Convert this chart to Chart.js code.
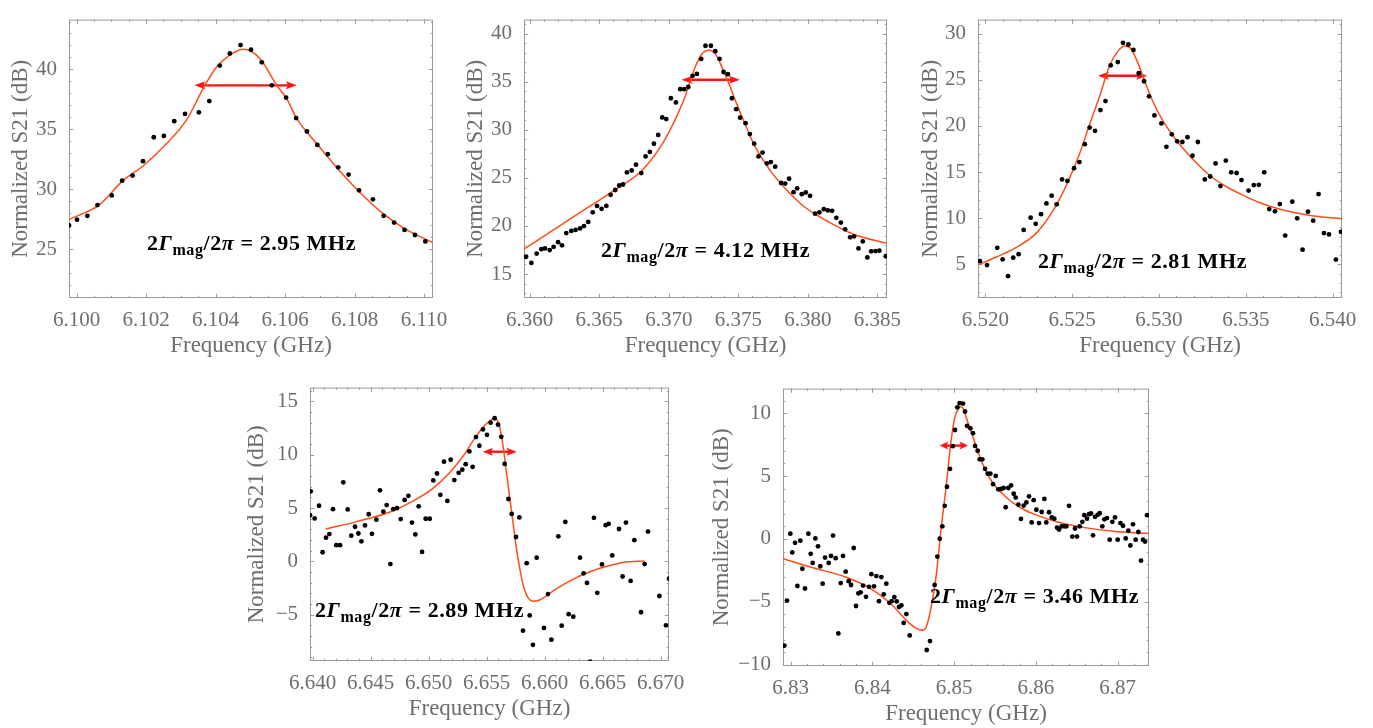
<!DOCTYPE html>
<html>
<head>
<meta charset="utf-8">
<title>Normalized S21 resonances</title>
<script src="https://cdn.jsdelivr.net/npm/chart.js"></script>
<style>
  body { margin: 0; background: #fff; width: 1373px; height: 728px; overflow: hidden; position: relative; }
  canvas { position: absolute; }
</style>
</head>
<body>
<script>
let p1Freq = [6.09978, 6.10001, 6.10031, 6.10060, 6.10101, 6.10131, 6.10161, 6.10191, 6.10222, 6.10251,
  6.10281, 6.10312, 6.10352, 6.10382, 6.10412, 6.10441, 6.10472, 6.10502, 6.10533, 6.10562,
  6.10603, 6.10632, 6.10663, 6.10693, 6.10723, 6.10753, 6.10783, 6.10813, 6.10853, 6.10884,
  6.10914, 6.10944, 6.10974, 6.11004];
let p1S21 = [26.98, 27.46, 27.78, 28.68, 29.48, 30.71, 31.14, 32.34, 34.34, 34.45,
  35.68, 36.29, 36.42, 37.36, 40.32, 41.33, 42.03, 41.65, 40.59, 38.67,
  37.65, 35.94, 34.82, 33.70, 32.93, 31.83, 31.22, 29.91, 29.16, 27.78,
  27.22, 26.60, 26.18, 25.64];
let p1FitFreq = [6.09978, 6.10067, 6.10131, 6.10191, 6.10259, 6.10317, 6.10369, 6.10403, 6.10441, 6.10480,
  6.10528, 6.10576, 6.10605, 6.10633, 6.10691, 6.10753, 6.10813, 6.10883, 6.10943, 6.11026];
let p1FitS21 = [27.46, 28.74, 30.66, 31.94, 33.81, 35.81, 38.67, 40.21, 41.20, 41.68,
  40.90, 38.67, 37.54, 35.94, 33.81, 31.67, 29.81, 27.94, 26.74, 25.53];
let p1XTicks = [6.100, 6.102, 6.104, 6.106, 6.108, 6.110];
let p1YTicks = [25, 30, 35, 40];

let p2Freq = [6.35974, 6.36012, 6.36050, 6.36084, 6.36110, 6.36144, 6.36172, 6.36204, 6.36232, 6.36263,
  6.36299, 6.36330, 6.36362, 6.36390, 6.36421, 6.36453, 6.36484, 6.36517, 6.36551, 6.36582,
  6.36615, 6.36644, 6.36671, 6.36699, 6.36733, 6.36764, 6.36802, 6.36833, 6.36864, 6.36893,
  6.36924, 6.36953, 6.36982, 6.37015, 6.37051, 6.37082, 6.37111, 6.37140, 6.37171, 6.37202,
  6.37233, 6.37264, 6.37303, 6.37334, 6.37365, 6.37394, 6.37425, 6.37454, 6.37485, 6.37513,
  6.37552, 6.37583, 6.37614, 6.37645, 6.37674, 6.37705, 6.37734, 6.37765, 6.37808, 6.37837,
  6.37865, 6.37897, 6.37923, 6.37956, 6.37985, 6.38016, 6.38052, 6.38083, 6.38115, 6.38143,
  6.38174, 6.38205, 6.38237, 6.38268, 6.38304, 6.38332, 6.38364, 6.38395, 6.38428, 6.38455,
  6.38486, 6.38514, 6.38560];
let p2S21 = [16.80, 16.16, 17.13, 17.59, 17.66, 17.49, 17.83, 18.32, 17.99, 19.26,
  19.49, 19.59, 19.75, 19.99, 20.42, 21.42, 22.08, 21.78, 22.08, 23.24,
  23.74, 24.21, 24.31, 25.57, 25.77, 26.37, 25.50, 27.23, 27.70, 28.56,
  29.46, 31.29, 31.12, 33.28, 32.85, 34.22, 34.22, 34.45, 35.61, 35.81,
  37.37, 38.74, 38.74, 38.17, 37.37, 36.01, 35.78, 33.28, 32.15, 31.26,
  30.69, 29.56, 28.56, 27.23, 27.63, 26.50, 26.64, 26.17, 24.47, 24.41,
  24.91, 23.51, 23.91, 23.31, 23.48, 23.14, 21.28, 21.42, 21.75, 21.62,
  21.58, 20.85, 20.35, 19.65, 18.82, 18.92, 17.66, 18.39, 16.73, 17.36,
  17.39, 17.43, 16.86];
let p2FitFreq = [6.35959, 6.36182, 6.36421, 6.36613, 6.36805, 6.36948, 6.37044, 6.37116, 6.37152, 6.37188,
  6.37236, 6.37291, 6.37343, 6.37391, 6.37439, 6.37487, 6.37547, 6.37619, 6.37739, 6.37858,
  6.37978, 6.38098, 6.38217, 6.38337, 6.38569];
let p2FitS21 = [17.59, 19.70, 21.95, 23.75, 25.75, 28.40, 31.00, 33.40, 35.00, 36.45,
  37.85, 38.27, 37.71, 36.21, 34.55, 32.75, 30.65, 28.30, 25.57, 23.58,
  21.95, 20.85, 19.90, 19.09, 18.19];
let p2XTicks = [6.360, 6.365, 6.370, 6.375, 6.380, 6.385];
let p2YTicks = [15, 20, 25, 30, 35, 40];

let p3Freq = [6.51969, 6.52010, 6.52069, 6.52100, 6.52131, 6.52161, 6.52192, 6.52221, 6.52261, 6.52290,
  6.52321, 6.52352, 6.52382, 6.52411, 6.52442, 6.52473, 6.52511, 6.52542, 6.52573, 6.52601,
  6.52632, 6.52663, 6.52692, 6.52722, 6.52763, 6.52793, 6.52824, 6.52853, 6.52884, 6.52914,
  6.52943, 6.52974, 6.53014, 6.53043, 6.53074, 6.53105, 6.53135, 6.53164, 6.53193, 6.53224,
  6.53264, 6.53295, 6.53326, 6.53354, 6.53385, 6.53416, 6.53447, 6.53475, 6.53516, 6.53546,
  6.53575, 6.53606, 6.53635, 6.53668, 6.53696, 6.53727, 6.53768, 6.53796, 6.53827, 6.53858,
  6.53888, 6.53919, 6.53950, 6.53979, 6.54019, 6.54048];
let p3S21 = [5.35, 4.93, 6.80, 5.55, 3.72, 5.73, 6.11, 8.74, 10.06, 9.40,
  10.44, 11.61, 12.44, 11.51, 14.21, 14.04, 15.42, 16.08, 18.02, 19.82,
  19.47, 21.72, 22.69, 26.57, 26.92, 29.00, 28.82, 28.23, 25.71, 24.84,
  23.21, 21.14, 20.27, 17.74, 19.09, 18.33, 18.26, 18.78, 16.77, 18.26,
  14.21, 14.52, 15.94, 13.48, 16.25, 14.97, 14.90, 14.14, 13.00, 13.59,
  13.62, 14.97, 10.99, 10.75, 11.54, 8.12, 11.79, 9.99, 6.59, 10.71,
  9.74, 12.62, 8.39, 8.25, 5.52, 8.53];
let p3FitFreq = [6.51958, 6.52063, 6.52179, 6.52294, 6.52390, 6.52467, 6.52544, 6.52601, 6.52659, 6.52717,
  6.52765, 6.52805, 6.52841, 6.52880, 6.52918, 6.52966, 6.53024, 6.53101, 6.53197, 6.53293,
  6.53389, 6.53485, 6.53581, 6.53677, 6.53773, 6.53869, 6.54054];
let p3FitS21 = [4.93, 5.80, 6.84, 8.39, 10.82, 13.59, 17.05, 20.17, 23.28, 26.57,
  28.13, 28.65, 28.30, 26.75, 24.84, 22.59, 20.51, 18.43, 16.36, 14.63,
  13.41, 12.48, 11.68, 11.09, 10.64, 10.30, 9.95];
let p3XTicks = [6.520, 6.525, 6.530, 6.535, 6.540];
let p3YTicks = [5, 10, 15, 20, 25, 30];

let p4Freq = [6.63977, 6.63983, 6.64017, 6.64055, 6.64086, 6.64115, 6.64144, 6.64175, 6.64204, 6.64236,
  6.64264, 6.64302, 6.64333, 6.64365, 6.64394, 6.64420, 6.64451, 6.64483, 6.64511, 6.64549,
  6.64580, 6.64609, 6.64638, 6.64670, 6.64695, 6.64727, 6.64759, 6.64793, 6.64825, 6.64856,
  6.64885, 6.64914, 6.64943, 6.64974, 6.65009, 6.65040, 6.65072, 6.65101, 6.65132, 6.65161,
  6.65190, 6.65221, 6.65259, 6.65290, 6.65319, 6.65351, 6.65379, 6.65408, 6.65437, 6.65468,
  6.65503, 6.65534, 6.65569, 6.65598, 6.65626, 6.65655, 6.65687, 6.65716, 6.65753, 6.65782,
  6.65813, 6.65845, 6.65871, 6.65899, 6.65931, 6.65994, 6.66029, 6.66058, 6.66118, 6.66147,
  6.66178, 6.66207, 6.66247, 6.66305, 6.66336, 6.66365, 6.66391, 6.66425, 6.66454, 6.66494,
  6.66526, 6.66552, 6.66583, 6.66641, 6.66672, 6.66701, 6.66741, 6.66773, 6.66831, 6.66862,
  6.66891, 6.66989, 6.67046, 6.67072];
let p4S21 = [4.33, 6.57, 4.03, 5.22, 0.86, 2.23, 2.56, 4.90, 1.52, 1.52,
  7.41, 4.87, 2.41, 3.25, 2.62, 1.88, 3.37, 4.42, 2.59, 3.91,
  6.66, 4.66, 5.28, -0.25, 4.90, 4.99, 3.97, 5.76, 6.15, 3.64,
  2.53, 5.16, 0.89, 4.00, 4.00, 7.59, 8.24, 6.24, 9.35, 5.67,
  9.53, 7.62, 8.30, 8.60, 9.11, 10.31, 8.87, 11.65, 10.84, 12.37,
  11.86, 13.00, 13.42, 12.82, 11.68, 9.14, 5.85, 4.45, 2.29, 4.12,
  -6.49, -0.16, -5.06, -7.81, 0.35, -6.23, -3.06, -7.33, 2.35, -6.02,
  3.70, -4.94, -5.18, 0.35, -1.11, -2.01, -9.42, 4.09, -2.94, -0.28,
  3.40, 3.52, 0.56, 3.04, -1.41, 3.64, -1.83, 1.99, -4.76, -0.25,
  2.80, -3.24, -5.99, -1.62];
let p4FitFreq = [6.64112, 6.64379, 6.64667, 6.64868, 6.65040, 6.65184, 6.65299, 6.65385, 6.65471, 6.65543,
  6.65572, 6.65609, 6.65644, 6.65672, 6.65701, 6.65730, 6.65759, 6.65787, 6.65816, 6.65851,
  6.65902, 6.65960, 6.66103, 6.66247, 6.66391, 6.66535, 6.66678, 6.66862];
let p4FitS21 = [3.04, 3.73, 4.63, 5.67, 6.87, 8.36, 9.90, 11.35, 12.60, 13.28,
  13.36, 12.75, 10.61, 8.21, 5.82, 3.43, 1.04, -0.75, -2.25, -3.30,
  -3.74, -3.59, -2.55, -1.65, -0.96, -0.46, -0.10, 0.05];
let p4XTicks = [6.640, 6.645, 6.650, 6.655, 6.660, 6.665, 6.670];
let p4YTicks = [-5, 0, 5, 10, 15];

let p5Freq = [6.82923, 6.82955, 6.82996, 6.83020, 6.83053, 6.83082, 6.83118, 6.83143, 6.83175, 6.83216,
  6.83245, 6.83269, 6.83302, 6.83334, 6.83363, 6.83391, 6.83420, 6.83465, 6.83493, 6.83518,
  6.83550, 6.83583, 6.83612, 6.83640, 6.83673, 6.83709, 6.83738, 6.83771, 6.83799, 6.83828,
  6.83856, 6.83885, 6.83921, 6.83958, 6.83987, 6.84019, 6.84048, 6.84080, 6.84109, 6.84138,
  6.84170, 6.84207, 6.84235, 6.84268, 6.84297, 6.84325, 6.84354, 6.84382, 6.84415, 6.84456,
  6.84664, 6.84704, 6.84761, 6.84794, 6.84823, 6.84855, 6.84884, 6.84912, 6.84949, 6.84982,
  6.85010, 6.85039, 6.85067, 6.85108, 6.85132, 6.85157, 6.85198, 6.85230, 6.85255, 6.85287,
  6.85312, 6.85344, 6.85377, 6.85410, 6.85442, 6.85475, 6.85508, 6.85540, 6.85573, 6.85605,
  6.85630, 6.85662, 6.85695, 6.85728, 6.85752, 6.85785, 6.85817, 6.85850, 6.85883, 6.85915,
  6.85948, 6.85972, 6.86005, 6.86038, 6.86070, 6.86103, 6.86127, 6.86160, 6.86193, 6.86225,
  6.86258, 6.86282, 6.86315, 6.86347, 6.86372, 6.86405, 6.86445, 6.86478, 6.86502, 6.86535,
  6.86568, 6.86592, 6.86625, 6.86649, 6.86674, 6.86698, 6.86723, 6.86755, 6.86780, 6.86812,
  6.86837, 6.86869, 6.86902, 6.86935, 6.86967, 6.87000, 6.87033, 6.87065, 6.87098, 6.87130,
  6.87155, 6.87187, 6.87220, 6.87253, 6.87285, 6.87310, 6.87334, 6.87359];
let p5S21 = [-8.48, -4.90, 0.42, -1.07, -0.31, -3.74, -0.14, -2.37, -3.94, 0.42,
  -1.18, -1.91, 0.04, -0.59, -2.17, -3.56, -1.48, -1.91, -1.35, 0.27,
  -1.53, -7.51, -3.51, -1.35, -2.60, -3.36, -3.66, -0.72, -5.33, -4.32,
  -4.24, -3.71, -4.60, -3.81, -2.80, -3.77, -2.95, -4.95, -3.03, -4.40,
  -3.56, -5.08, -4.95, -4.62, -4.97, -5.41, -5.28, -6.68, -5.97, -7.67,
  -8.83, -8.12, -3.66, -1.40, 0.02, 1.00, 2.63, 4.15, 5.57, 7.37,
  8.66, 10.46, 10.79, 10.76, 10.13, 8.99, 8.79, 8.41, 7.39, 7.01,
  6.33, 6.33, 5.57, 5.19, 5.19, 4.35, 5.01, 3.94, 3.97, 4.05,
  2.52, 4.05, 4.25, 3.59, 3.29, 2.73, 1.59, 2.65, 2.90, 3.39,
  1.31, 3.08, 2.32, 1.26, 2.14, 3.18, 1.31, 2.12, 1.71, 1.61,
  0.90, 0.75, 1.00, 1.00, 1.00, 2.63, 0.19, 0.83, 0.19, 1.00,
  1.36, 1.89, 1.61, 1.97, 2.02, 0.29, 1.76, 1.92, 2.04, 1.00,
  1.56, 1.66, -0.06, 1.36, 1.71, -0.06, 1.26, 1.05, 0.04, 0.65,
  -0.52, 1.16, -0.06, 0.55, -1.73, -0.06, -0.21, 1.89];
let p5FitFreq = [6.82906, 6.83273, 6.83681, 6.84007, 6.84252, 6.84415, 6.84537, 6.84611, 6.84659, 6.84721,
  6.84782, 6.84843, 6.84904, 6.84953, 6.85006, 6.85059, 6.85083, 6.85108, 6.85149, 6.85230,
  6.85312, 6.85393, 6.85475, 6.85638, 6.85801, 6.86005, 6.86290, 6.86617, 6.86943, 6.87400];
let p5FitS21 = [-1.58, -2.29, -3.05, -4.07, -5.33, -6.47, -7.11, -7.26, -6.98, -5.33,
  -2.80, 1.00, 4.30, 7.34, 9.62, 10.43, 10.50, 10.38, 9.62, 8.10,
  6.58, 5.31, 4.43, 3.29, 2.52, 1.89, 1.31, 0.88, 0.62, 0.42];
let p5XTicks = [6.83, 6.84, 6.85, 6.86, 6.87];
let p5YTicks = [-10, -5, 0, 5, 10];

/* Linewidth 2Γ/2π of each mode (MHz) and the arrow that marks it. */
let widthMHz = ["2.95", "4.12", "2.81", "2.89", "3.46"];
let arrowFrom = [6.10339, 6.37092, 6.52649, 6.65466, 6.84823];
let arrowTo = [6.10634, 6.37511, 6.52932, 6.65759, 6.85169];
let arrowLevel = [38.67, 35.21, 25.43, 10.28, 7.42];

const SERIF = "'Liberation Serif', 'Times New Roman', serif";
const AXIS_GRAY = "#6e6e6e";
const FRAME_GRAY = "#9a9a9a";
const FIT_COLOR = "#ff4d1a";
const ARROW_RED = "#ff1414";

/* Page layout: plot frame [left, top, right, bottom], y-title centre, label anchor. */
let panels = [
  { freq: p1Freq, s21: p1S21, fitFreq: p1FitFreq, fitS21: p1FitS21, xTicks: p1XTicks, yTicks: p1YTicks,
    box: [69, 7, 433, 298], titleX: 21, xRange: [6.09978, 6.11026], yRange: [20.92, 44.16],
    xMinor: 0.0005, yMinor: 1, digits: 3, label: [147, 250] },
  { freq: p2Freq, s21: p2S21, fitFreq: p2FitFreq, fitS21: p2FitS21, xTicks: p2XTicks, yTicks: p2YTicks,
    box: [524, 7, 887, 298], titleX: 476, xRange: [6.35959, 6.38569], yRange: [12.51, 41.46],
    xMinor: 0.001, yMinor: 1, digits: 3, label: [601, 257] },
  { freq: p3Freq, s21: p3S21, fitFreq: p3FitFreq, fitS21: p3FitS21, xTicks: p3XTicks, yTicks: p3YTicks,
    box: [978, 7, 1342, 298], titleX: 931, xRange: [6.51958, 6.54054], yRange: [1.36, 31.52],
    xMinor: 0.001, yMinor: 1, digits: 3, label: [1038, 268] },
  { freq: p4Freq, s21: p4S21, fitFreq: p4FitFreq, fitS21: p4FitS21, xTicks: p4XTicks, yTicks: p4YTicks,
    box: [310, 375, 669, 661], titleX: 257, xRange: [6.63977, 6.67072], yRange: [-9.33, 16.29],
    xMinor: 0.001, yMinor: 1, digits: 3, label: [315, 617] },
  { freq: p5Freq, s21: p5S21, fitFreq: p5FitFreq, fitS21: p5FitS21, xTicks: p5XTicks, yTicks: p5YTicks,
    box: [783, 376, 1149, 666], titleX: 722, xRange: [6.82906, 6.87383], yRange: [-10.1, 11.95],
    xMinor: 0.002, yMinor: 1, digits: 2, label: [930, 603] }
];

function signed(v) {
  /* Mathematica style minus sign on negative tick labels. */
  return v < 0 ? "\u2212" + Math.abs(v) : String(v);
}

function drawWidthLabel(ctx, left, base, mhz) {
  /* 2Γ_mag/2π = … MHz, bold, Γ and π in italics, "mag" as a subscript. */
  let size = 22;
  let bold = "bold " + size + "px " + SERIF;
  let italic = "italic bold " + size + "px " + SERIF;
  let small = "bold " + Math.round(size * 0.72) + "px " + SERIF;
  let pieces = [
    ["2", bold, 0], ["\u0393", italic, 0], ["mag", small, 5],
    ["/2", bold, 0], ["\u03c0", italic, 0], [" = " + mhz + " MHz", bold, 0]
  ];
  ctx.save();
  let natural = 0;
  let count = 0;
  pieces.forEach(([t, f]) => {
    ctx.font = f;
    natural += ctx.measureText(t).width;
    count += t.length;
  });
  let spacing = Math.max(0, Math.min(0.8, (209 - natural) / count));
  ctx.fillStyle = "#000";
  ctx.textBaseline = "alphabetic";
  let xp = left;
  pieces.forEach(([t, f, dy]) => {
    ctx.font = f;
    let w = ctx.measureText(t).width;
    ctx.letterSpacing = spacing + "px";
    ctx.fillText(t, xp, base + dy);
    ctx.letterSpacing = "0px";
    xp += w + spacing * t.length;
  });
  ctx.restore();
}

function makeOverlay(p, i, cLeft, cTop) {
  return {
    id: "overlay" + i,
    beforeDatasetsDraw(chart) {
      let { ctx, chartArea: a } = chart;
      let xs = chart.scales.x;
      let ys = chart.scales.y;
      ctx.save();
      /* Frame with inward ticks on all four sides. */
      ctx.strokeStyle = FRAME_GRAY;
      ctx.lineWidth = 1;
      ctx.strokeRect(a.left + 0.5, a.top + 0.5, a.right - a.left - 1, a.bottom - a.top - 1);
      ctx.beginPath();
      let mark = (horizontal, scale, v, len) => {
        let q = Math.round(scale.getPixelForValue(v)) + 0.5;
        if (horizontal) {
          ctx.moveTo(q, a.bottom); ctx.lineTo(q, a.bottom - len);
          ctx.moveTo(q, a.top); ctx.lineTo(q, a.top + len);
        } else {
          ctx.moveTo(a.left, q); ctx.lineTo(a.left + len, q);
          ctx.moveTo(a.right, q); ctx.lineTo(a.right - len, q);
        }
      };
      [[true, xs, p.xMinor], [false, ys, p.yMinor]].forEach(([h, s, step]) => {
        for (let k = Math.ceil(s.min / step - 1e-6); k * step <= s.max + 1e-9; k++) {
          mark(h, s, k * step, 2.2);
        }
        s.ticks.forEach((t) => mark(h, s, t.value, 4.2));
      });
      ctx.stroke();

      /* Red double arrow spanning 2Γ. */
      let xa = xs.getPixelForValue(arrowFrom[i]);
      let xb = xs.getPixelForValue(arrowTo[i]);
      let ya = ys.getPixelForValue(arrowLevel[i]);
      let head = Math.min(11, (xb - xa) * 0.3);
      let half = 4;
      ctx.strokeStyle = ARROW_RED;
      ctx.fillStyle = ARROW_RED;
      ctx.lineWidth = 2.4;
      ctx.beginPath();
      ctx.moveTo(xa + head * 0.6, ya);
      ctx.lineTo(xb - head * 0.6, ya);
      ctx.stroke();
      [[xa, 1], [xb, -1]].forEach(([xp, dir]) => {
        ctx.beginPath();
        ctx.moveTo(xp, ya);
        ctx.lineTo(xp + dir * head, ya - half);
        ctx.lineTo(xp + dir * head * 0.78, ya);
        ctx.lineTo(xp + dir * head, ya + half);
        ctx.closePath();
        ctx.fill();
      });
      ctx.restore();
    },
    afterDatasetsDraw(chart) {
      drawWidthLabel(chart.ctx, p.label[0] - cLeft, p.label[1] - cTop, widthMHz[i]);
    }
  };
}

panels.forEach((p, i) => {
  let [l, t, r, b] = p.box;
  let cLeft = Math.round(p.titleX - 13.8);
  let cTop = t - 4;
  let canvas = document.createElement("canvas");
  canvas.width = r - cLeft + 26;
  canvas.height = b - t + 4 + 62;
  canvas.style.left = cLeft + "px";
  canvas.style.top = cTop + "px";
  document.body.appendChild(canvas);

  let points = p.freq.map((f, k) => ({ x: f, y: p.s21[k] }));
  let fit = p.fitFreq.map((f, k) => ({ x: f, y: p.fitS21[k] }));
  let tickFont = { family: SERIF, size: 21 };
  let titleFont = { family: SERIF, size: 23 };

  new Chart(canvas, {
    type: "scatter",
    data: {
      datasets: [
        {
          data: points,
          showLine: false,
          pointRadius: 2.4,
          pointBorderWidth: 0,
          pointBackgroundColor: "#000",
          clip: 0,
          order: 0
        },
        {
          type: "line",
          data: fit,
          borderColor: FIT_COLOR,
          borderWidth: 1.5,
          pointRadius: 0,
          fill: false,
          cubicInterpolationMode: "monotone",
          clip: 0,
          order: 1
        }
      ]
    },
    options: {
      responsive: false,
      animation: false,
      devicePixelRatio: 1,
      events: [],
      layout: { padding: { top: 4, right: 26, bottom: 0, left: 0 } },
      plugins: { legend: { display: false }, tooltip: { enabled: false } },
      scales: {
        x: {
          type: "linear",
          min: p.xRange[0],
          max: p.xRange[1],
          grid: { display: false },
          border: { display: false },
          afterBuildTicks: (s) => { s.ticks = p.xTicks.map((v) => ({ value: v })); },
          afterFit: (s) => { s.height = 62; },
          ticks: {
            autoSkip: false,
            maxRotation: 0,
            padding: 2,
            color: AXIS_GRAY,
            font: tickFont,
            callback: (v) => v.toFixed(p.digits)
          },
          title: { display: true, text: "Frequency (GHz)", color: AXIS_GRAY, font: titleFont, padding: 0 }
        },
        y: {
          type: "linear",
          min: p.yRange[0],
          max: p.yRange[1],
          grid: { display: false },
          border: { display: false },
          afterBuildTicks: (s) => { s.ticks = p.yTicks.map((v) => ({ value: v })); },
          afterFit: (s) => { s.width = l - cLeft; },
          ticks: {
            autoSkip: false,
            padding: 4,
            color: AXIS_GRAY,
            font: tickFont,
            callback: (v) => signed(v)
          },
          title: { display: true, text: "Normalized S21 (dB)", color: AXIS_GRAY, font: titleFont, padding: 0 }
        }
      }
    },
    plugins: [makeOverlay(p, i, cLeft, cTop)]
  });
});
</script>
</body>
</html>
